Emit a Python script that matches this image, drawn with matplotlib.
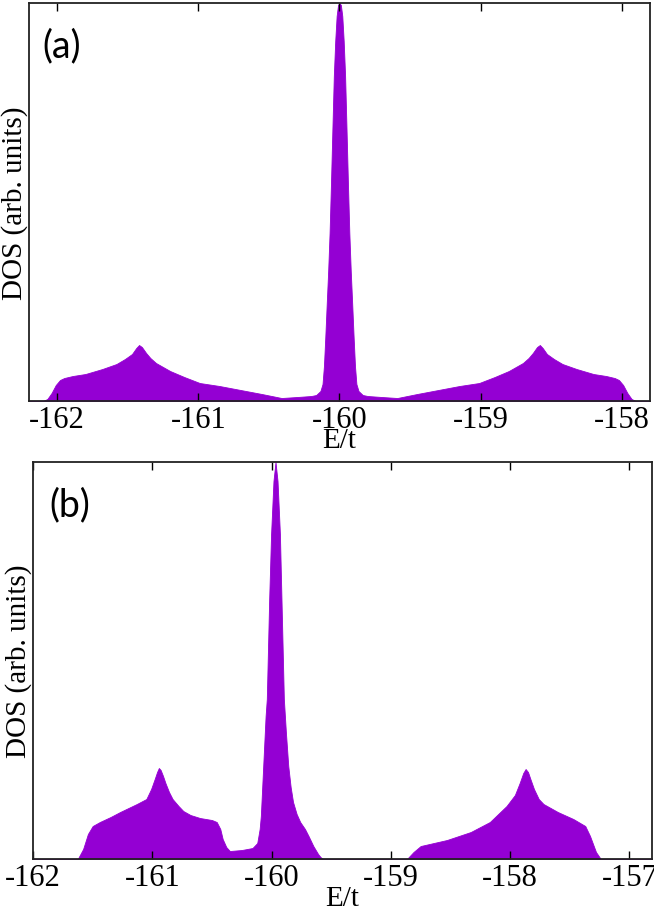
import matplotlib
matplotlib.use("Agg")
import matplotlib.pyplot as plt

plt.rcParams['font.family'] = ['Liberation Serif', 'DejaVu Serif']

# DOS curves (E/t, DOS in arb. units)
E_a = [-162.20, -162.10, -162.07, -162.04, -162.01, -161.98, -161.95, -161.89,
       -161.80, -161.68, -161.58, -161.52, -161.47, -161.44, -161.42, -161.40,
       -161.37, -161.34, -161.30, -161.25, -161.20, -161.10, -160.99, -160.85,
       -160.70, -160.55, -160.41, -160.30, -160.20, -160.165, -160.135, -160.12,
       -160.11, -160.10, -160.09, -160.08, -160.07, -160.06, -160.05, -160.04,
       -160.03, -160.02, -160.01, -160.00,
       -159.99, -159.98, -159.97, -159.96, -159.95, -159.94, -159.93, -159.92,
       -159.91, -159.90, -159.89, -159.88, -159.865, -159.835, -159.80, -159.70,
       -159.59, -159.45, -159.30, -159.15, -159.01, -158.90, -158.80, -158.75,
       -158.70, -158.66, -158.63, -158.60, -158.58, -158.56, -158.53, -158.48,
       -158.42, -158.32, -158.20, -158.11, -158.05, -158.02, -157.99, -157.96,
       -157.93, -157.90, -157.80]
D_a = [0, 0, 2, 8, 16, 21, 23, 25,
       27, 32, 37, 42, 47, 53, 56, 54,
       48, 43, 38, 34, 30, 24, 18, 15,
       11, 7, 3, 4, 5, 6, 10, 17,
       35, 65, 98, 130, 168, 218, 272, 325,
       360, 385, 396, 398,
       396, 385, 360, 325, 272, 218, 168, 130,
       98, 65, 35, 17, 10, 6, 5, 4,
       3, 7, 11, 15, 18, 24, 30, 34,
       38, 43, 48, 54, 56, 53, 47, 42,
       37, 32, 27, 25, 23, 21, 16, 8,
       2, 0, 0]

E_b = [-162.00, -161.625, -161.58, -161.54, -161.50, -161.44, -161.35, -161.27,
       -161.13, -161.05, -161.01, -160.98, -160.96, -160.945, -160.93, -160.91,
       -160.89, -160.86, -160.83, -160.78, -160.74, -160.68, -160.60, -160.50,
       -160.46, -160.43, -160.41, -160.38, -160.35, -160.25, -160.16, -160.12,
       -160.10, -160.09, -160.07, -160.05, -160.04, -160.03, -160.02, -160.004,
       -159.984, -159.967,
       -159.95, -159.93, -159.917, -159.907, -159.897, -159.88, -159.86, -159.84,
       -159.82, -159.79, -159.76, -159.72, -159.69, -159.65, -159.61, -159.59,
       -159.57, -158.865, -158.81, -158.75, -158.53, -158.33, -158.17, -158.03,
       -157.96, -157.92, -157.89, -157.87, -157.85, -157.83, -157.80, -157.76,
       -157.72, -157.60, -157.47, -157.37, -157.33, -157.28, -157.24, -156.80]
D_b = [0, 0, 10, 25, 33, 37, 42, 47,
       55, 60, 70, 80, 87, 91, 89, 83,
       76, 67, 60, 53, 48, 44, 41, 39,
       37, 30, 20, 12, 8, 9, 11, 16,
       30, 43, 93, 143, 160, 210, 260, 325,
       378, 397,
       378, 325, 260, 210, 160, 127, 93, 72,
       57, 45, 37, 30, 23, 13, 5, 2,
       0, 0, 7, 13, 19, 27, 37, 53,
       64, 76, 86, 90, 87, 80, 70, 60,
       55, 47, 40, 33, 23, 7, 0, 0]

ticks_a = [-162, -161, -160, -159, -158]
ticks_b = [-162, -161, -160, -159, -158, -157]

purple = '#9400D3'

fig = plt.figure(figsize=(6.54, 9.12), dpi=100)
ax1 = fig.add_axes([0.0443, 0.5592, 0.9495, 0.4364])
ax2 = fig.add_axes([0.0505, 0.0570, 0.9465, 0.4353])

panels = [(ax1, E_a, D_a, ticks_a, (-162.2, -157.8), 398, '(a)', 0.022),
          (ax2, E_b, D_b, ticks_b, (-162.0, -156.81), 397, '(b)', 0.027)]

for ax, E, D, ticks, xlim, top, tag, tx in panels:
    ax.fill_between(E, 0, D, color=purple, lw=0.6, ec=purple)
    ax.set_xlim(*xlim)
    ax.set_ylim(0, top)
    ax.set_yticks([])
    ax.set_xticks(ticks)
    ax.set_xticklabels([str(t) for t in ticks], family='Liberation Serif',
                       fontsize=22)
    ax.tick_params(axis='x', direction='in', top=True, length=6, width=1.0,
                   pad=3)
    for s in ax.spines.values():
        s.set_linewidth(1.3)
        s.set_color('#222222')
    ax.set_xlabel('E/t', fontsize=21, labelpad=-5)
    ax.set_ylabel('DOS (arb. units)', fontsize=21, labelpad=1)
    ax.text(tx, 0.893, tag, transform=ax.transAxes, family=['Lato', 'DejaVu Sans'],
            fontsize=27, va='center', ha='left')

fig.savefig('out.png', dpi=100)
